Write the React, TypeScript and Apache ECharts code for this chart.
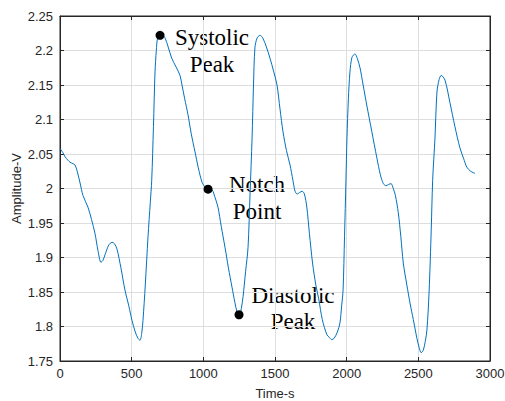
import React, { useEffect, useRef } from "react";
import * as echarts from "echarts";

const timeS = [0,20,35,55,70,90,105,120,140,160,195,220,244,265,286,300,314,340,363,380,398,425,453,480,502,525,544,558,570,579,595,614,630,640,652,663,672,681,698,715,733,755,779,810,837,851,870,893,915,942,965,991,1012,1033,1061,1080,1102,1125,1151,1175,1200,1220,1235,1249,1256,1265,1277,1295,1312,1326,1340,1350,1360,1375,1395,1415,1440,1465,1490,1514,1535,1556,1580,1605,1625,1640,1655,1670,1690,1705,1722,1740,1762,1785,1805,1830,1862,1880,1895,1913,1935,1953,1965,1975,1985,1995,2002,2012,2023,2037,2058,2075,2093,2115,2140,2175,2211,2235,2256,2275,2293,2310,2325,2340,2360,2378,2395,2420,2442,2465,2490,2505,2520,2535,2548,2560,2575,2590,2600,2616,2630,2645,2660,2686,2720,2755,2790,2815,2838,2865,2895];
const amplitudeV = [2.058,2.052,2.046,2.041,2.038,2.036,2.034,2.025,2.008,1.99,1.973,1.955,1.935,1.91,1.893,1.896,1.904,1.918,1.922,1.92,1.912,1.885,1.853,1.83,1.809,1.792,1.783,1.78,1.79,1.809,1.86,1.93,1.98,2.012,2.09,2.169,2.2,2.218,2.222,2.222,2.218,2.205,2.189,2.176,2.164,2.15,2.13,2.107,2.08,2.053,2.03,2.009,2.002,1.999,1.998,1.988,1.973,1.945,1.915,1.885,1.857,1.835,1.821,1.817,1.818,1.826,1.843,1.88,1.915,1.993,2.073,2.15,2.204,2.218,2.222,2.218,2.205,2.189,2.17,2.15,2.115,2.082,2.055,2.034,2.012,1.996,1.992,1.994,1.996,1.992,1.973,1.935,1.892,1.86,1.84,1.81,1.788,1.784,1.781,1.783,1.792,1.805,1.83,1.853,1.93,2.012,2.073,2.13,2.169,2.19,2.195,2.188,2.175,2.15,2.121,2.083,2.044,2.02,2.007,2.004,2.006,2.007,2.0,1.99,1.965,1.93,1.892,1.86,1.834,1.81,1.783,1.77,1.762,1.766,1.778,1.795,1.85,1.94,2.012,2.073,2.14,2.158,2.164,2.157,2.125,2.09,2.059,2.044,2.031,2.025,2.022];

const keyPointNames = ["Systolic\nPeak", "Notch\nPoint", "Diastolic\nPeak"];
const keyPointTime = [698, 1033, 1249];
const keyPointAmp = [2.222, 1.999, 1.817];

const xTicks = { min: 0, max: 3000, interval: 500 };
const yTicks = { min: 1.75, max: 2.25, interval: 0.05 };

export default function App() {
  const ref = useRef<HTMLDivElement>(null);
  useEffect(() => {
    if (!ref.current) return;
    const chart = echarts.init(ref.current, null, { renderer: "svg" });
    const labelFont = { fontFamily: "Liberation Sans, Arial, sans-serif", fontSize: 13, color: "#262626" };
    const gridLine = { show: true, lineStyle: { color: "#dedede", width: 1 } };
    const annFont = "Liberation Serif, Times New Roman, serif";
    chart.setOption({
      animation: false,
      backgroundColor: "#ffffff",
      grid: { left: 60, top: 16, width: 430, height: 345, outerBoundsMode: "none", containLabel: false, show: true, borderColor: "#262626", borderWidth: 1, backgroundColor: "transparent" },
      xAxis: [
        {
          type: "value", ...xTicks, position: "bottom",
          name: "Time-s", nameLocation: "middle", nameGap: 26, nameMoveOverlap: false,
          nameTextStyle: { ...labelFont },
          axisLine: { show: true, onZero: false, lineStyle: { color: "#262626" } },
          axisTick: { show: true, inside: true, length: 4, lineStyle: { color: "#262626" } },
          axisLabel: { ...labelFont, margin: 6, formatter: (v: number) => String(v) },
          splitLine: gridLine,
        },
        {
          type: "value", ...xTicks, position: "top",
          axisLine: { show: true, onZero: false, lineStyle: { color: "#262626" } },
          axisTick: { show: true, inside: true, length: 4, lineStyle: { color: "#262626" } },
          axisLabel: { show: false },
          splitLine: { show: false },
        },
      ],
      yAxis: [
        {
          type: "value", ...yTicks, position: "left",
          name: "Amplitude-V", nameLocation: "middle", nameGap: 37, nameRotate: 90, nameMoveOverlap: false,
          nameTextStyle: { ...labelFont },
          axisLine: { show: true, onZero: false, lineStyle: { color: "#262626" } },
          axisTick: { show: true, inside: true, length: 4, lineStyle: { color: "#262626" } },
          axisLabel: { ...labelFont, margin: 7, formatter: (v: number) => String(parseFloat(v.toFixed(2))) },
          splitLine: gridLine,
        },
        {
          type: "value", ...yTicks, position: "right",
          axisLine: { show: true, onZero: false, lineStyle: { color: "#262626" } },
          axisTick: { show: true, inside: true, length: 4, lineStyle: { color: "#262626" } },
          axisLabel: { show: false },
          splitLine: { show: false },
        },
      ],
      series: [
        {
          type: "line",
          data: timeS.map((t, i) => [t, amplitudeV[i]]),
          smooth: 0.3,
          showSymbol: false,
          lineStyle: { color: "#0072BD", width: 1 },
          z: 2,
        },
        {
          type: "scatter",
          data: keyPointTime.map((t, i) => [t, keyPointAmp[i]]),
          symbol: "circle",
          symbolSize: 9,
          itemStyle: { color: "#000000", opacity: 1 },
          z: 3,
        },
      ],
      graphic: [
        { type: "text", x: 212, y: 51, style: { text: keyPointNames[0], font: `23px ${annFont}`, fill: "#000", align: "center", verticalAlign: "middle", lineHeight: 27 } },
        { type: "text", x: 257, y: 198, style: { text: keyPointNames[1], font: `23px ${annFont}`, fill: "#000", align: "center", verticalAlign: "middle", lineHeight: 27 } },
        { type: "text", x: 293, y: 308, style: { text: keyPointNames[2], font: `23px ${annFont}`, fill: "#000", align: "center", verticalAlign: "middle", lineHeight: 26 } },
      ],
    });
    return () => chart.dispose();
  }, []);
  return <div ref={ref} style={{ position: "fixed", left: 0, top: 0, width: 505, height: 401 }} />;
}
